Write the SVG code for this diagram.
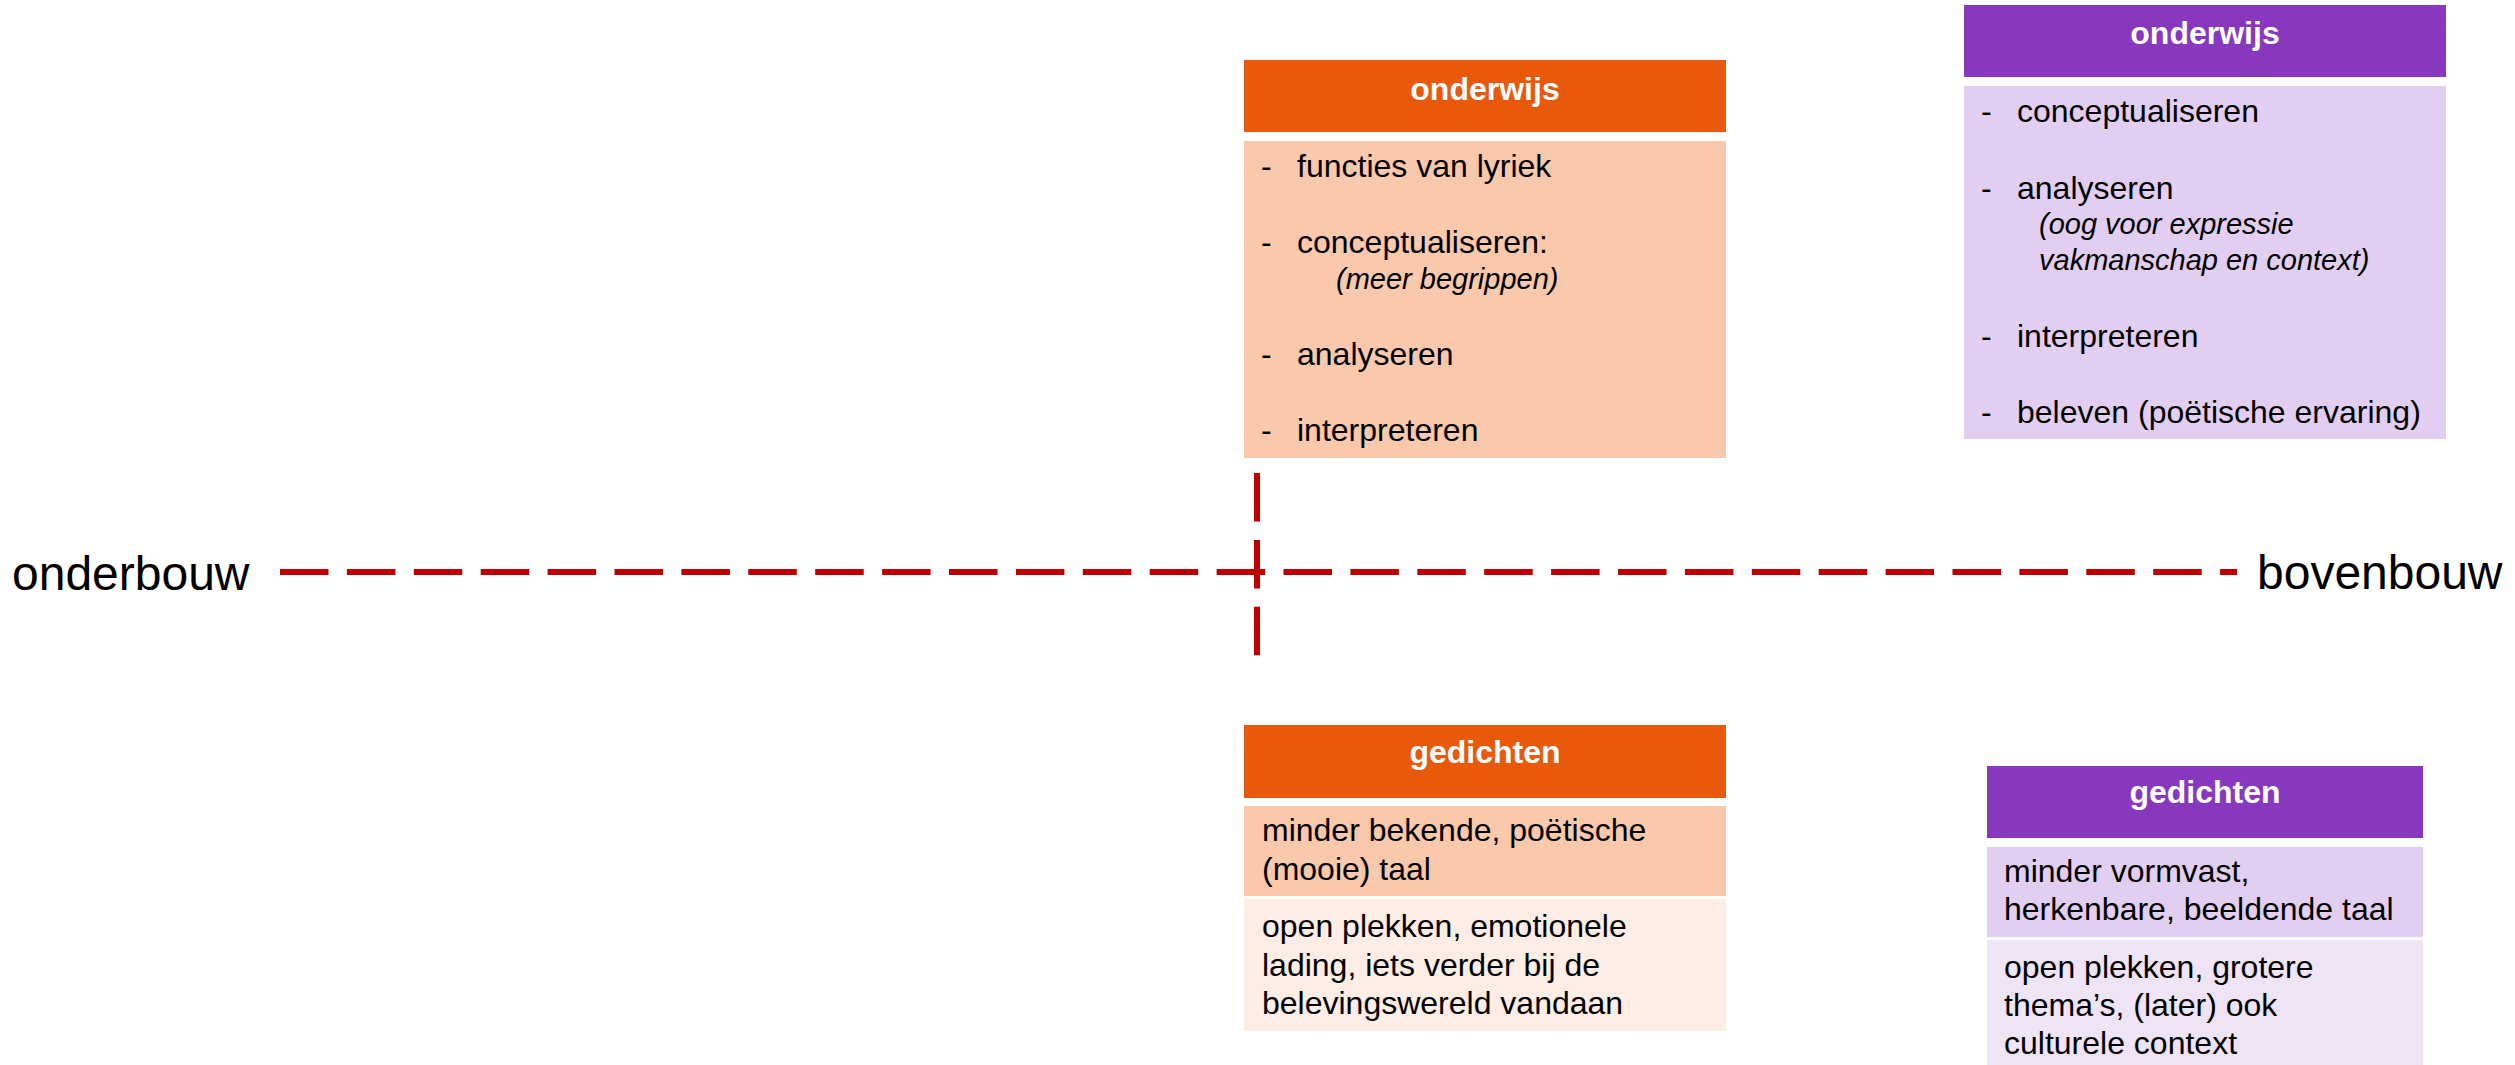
<svg xmlns="http://www.w3.org/2000/svg" width="2515" height="1065" viewBox="0 0 2515 1065">
<style>
text{font-family:"Liberation Sans",Arial,sans-serif;fill:#000}
.hd{font-size:32px;font-weight:bold;fill:#fff;text-anchor:middle}
.bd{font-size:32px}
.it{font-size:29px;font-style:italic}
.lbl{font-size:48px}
.oh{fill:#E8590C}
.ob{fill:#FAC8AB}
.ol{fill:#FDEDE4}
.ph{fill:#8738BE}
.pb{fill:#E2CEF1}
.pl{fill:#EFE3F6}
.dash{stroke:#C00000;stroke-width:6;stroke-dasharray:48.5 18.4;fill:none}
</style>
<rect width="2515" height="1065" fill="#fff"/>
<g id="connectors">
<line class="dash" x1="280" y1="572" x2="2237" y2="572"/>
<line class="dash" x1="1257" y1="473" x2="1257" y2="656"/>
</g>
<g id="onderbouw"><text class="lbl" x="12" y="590">onderbouw</text></g>
<g id="bovenbouw"><text class="lbl" x="2257" y="589">bovenbouw</text></g>
<g id="onderwijs-onderbouw">
<rect class="oh" x="1244" y="60" width="482" height="72"/>
<text class="hd" x="1485" y="100">onderwijs</text>
<rect class="ob" x="1244" y="141" width="482" height="317"/>
<text class="bd" x="1261" y="177">-</text><text class="bd" x="1297" y="177">functies van lyriek</text>
<text class="bd" x="1261" y="253">-</text><text class="bd" x="1297" y="253">conceptualiseren:</text>
<text class="it" x="1336" y="289">(meer begrippen)</text>
<text class="bd" x="1261" y="365">-</text><text class="bd" x="1297" y="365">analyseren</text>
<text class="bd" x="1261" y="441">-</text><text class="bd" x="1297" y="441">interpreteren</text>
</g>
<g id="onderwijs-bovenbouw">
<rect class="ph" x="1964" y="5" width="482" height="72"/>
<text class="hd" x="2205" y="44">onderwijs</text>
<rect class="pb" x="1964" y="86" width="482" height="353"/>
<text class="bd" x="1981" y="122">-</text><text class="bd" x="2017" y="122">conceptualiseren</text>
<text class="bd" x="1981" y="199">-</text><text class="bd" x="2017" y="199">analyseren</text>
<text class="it" x="2039" y="234">(oog voor expressie</text>
<text class="it" x="2039" y="270">vakmanschap en context)</text>
<text class="bd" x="1981" y="347">-</text><text class="bd" x="2017" y="347">interpreteren</text>
<text class="bd" x="1981" y="423">-</text><text class="bd" x="2017" y="423">beleven (poëtische ervaring)</text>
</g>
<g id="gedichten-onderbouw">
<rect class="oh" x="1244" y="725" width="482" height="73"/>
<text class="hd" x="1485" y="763">gedichten</text>
<rect class="ob" x="1244" y="806" width="482" height="90"/>
<text class="bd" x="1262" y="841">minder bekende, poëtische</text>
<text class="bd" x="1262" y="880">(mooie) taal</text>
<rect class="ol" x="1244" y="899" width="482" height="132"/>
<text class="bd" x="1262" y="937">open plekken, emotionele</text>
<text class="bd" x="1262" y="976">lading, iets verder bij de</text>
<text class="bd" x="1262" y="1014">belevingswereld vandaan</text>
</g>
<g id="gedichten-bovenbouw">
<rect class="ph" x="1987" y="766" width="436" height="72"/>
<text class="hd" x="2205" y="803">gedichten</text>
<rect class="pb" x="1987" y="847" width="436" height="90"/>
<text class="bd" x="2004" y="882">minder vormvast,</text>
<text class="bd" x="2004" y="920">herkenbare, beeldende taal</text>
<rect class="pl" x="1987" y="940" width="436" height="125"/>
<text class="bd" x="2004" y="978">open plekken, grotere</text>
<text class="bd" x="2004" y="1016">thema’s, (later) ook</text>
<text class="bd" x="2004" y="1054">culturele context</text>
</g>
</svg>
